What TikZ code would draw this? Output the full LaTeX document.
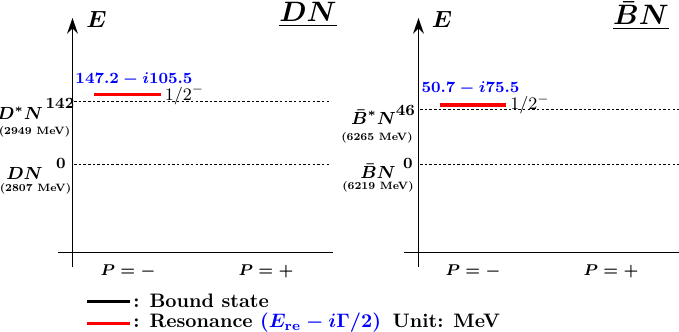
\documentclass[tikz,border=0pt]{standalone}
\usepackage{amsmath,amssymb}
\usetikzlibrary{arrows.meta}

\newcommand{\massnote}[1]{\scalebox{0.78}{\fontsize{7}{8}\selectfont\bfseries #1}}

\begin{document}
\begin{tikzpicture}[x=0.513pt, y=-0.513pt,
    axis/.style={line width=0.8pt, -{Stealth[length=8pt, width=5.5pt]}},
    haxis/.style={line width=0.8pt},
    level/.style={line width=0.6pt, dash pattern=on 1.3pt off 1.1pt},
    reson/.style={red, line width=1.6pt},
    bound/.style={black, line width=1.6pt},
    lbl/.style={inner sep=0pt, font=\bfseries\boldmath},
    axlbl/.style={inner sep=0pt, font=\large\bfseries\boldmath},
    ttl/.style={inner sep=0pt, font=\Large\bfseries\boldmath},
    thr/.style={inner sep=0pt, font=\footnotesize\bfseries\boldmath},
    chan/.style={inner sep=0pt, font=\small\bfseries\boldmath},
    mass/.style={inner sep=0pt},
    pole/.style={inner sep=0pt, text=blue, font=\footnotesize\bfseries\boldmath},
    jp/.style={inner sep=0pt, anchor=west, font=\small},
    par/.style={inner sep=0pt, font=\footnotesize\bfseries\boldmath}
]
\useasboundingbox (0,0) rectangle (679,332);

% DN panel
\coordinate (Lbot) at (72.5,267);
\coordinate (Ltop) at (72.5,18);
\coordinate (Lxl) at (58,252.5);
\coordinate (Lxr) at (333,252.5);
\draw[axis] (Lbot) -- (Ltop);
\draw[haxis] (Lxl) -- (Lxr);
\node[axlbl] (LE) at (96.5,19.5) {$E$};
\node[ttl] (Ltitle) at (308,14.5) {\underline{$DN$}};

\coordinate (Lsa) at (74,101.7);
\coordinate (Lsb) at (330,101.7);
\coordinate (Lza) at (74,164.3);
\coordinate (Lzb) at (330,164.3);
\draw[level] (Lsa) -- (Lsb);
\draw[level] (Lza) -- (Lzb);
\node[thr] (Lsval) at (60,103.5) {142};
\node[chan] (Lsch) at (20,113.5) {$D^*N$};
\node[mass] (Lsm) at (34.5,132) {\massnote{(2949 MeV)}};
\node[thr] (Lzval) at (61,163.5) {0};
\node[chan] (Lzch) at (24.5,173) {$DN$};
\node[mass] (Lzm) at (35.5,189) {\massnote{(2807 MeV)}};

\coordinate (Lra) at (94,94.3);
\coordinate (Lrb) at (161,94.3);
\draw[reson] (Lra) -- (Lrb);
\node[pole] (Lpole) at (134,79) {$147.2-i105.5$};
\node[jp] (Ljp) at (164.5,95) {$1/2^-$};

\node[par] (Lpm) at (128,271.5) {$P=-$};
\node[par] (Lpp) at (266,271.5) {$P=+$};

% BbarN panel
\coordinate (Rbot) at (418.5,267);
\coordinate (Rtop) at (418.5,18);
\coordinate (Rxl) at (404,252.5);
\coordinate (Rxr) at (679,252.5);
\draw[axis] (Rbot) -- (Rtop);
\draw[haxis] (Rxl) -- (Rxr);
\node[axlbl] (RE) at (442,19.5) {$E$};
\node[ttl] (Rtitle) at (641,16) {\underline{$\bar{B}N$}};

\coordinate (Rsa) at (420,109.3);
\coordinate (Rsb) at (679,109.3);
\coordinate (Rza) at (420,164.3);
\coordinate (Rzb) at (679,164.3);
\draw[level] (Rsa) -- (Rsb);
\draw[level] (Rza) -- (Rzb);
\node[thr] (Rsval) at (405.5,110.5) {46};
\node[chan] (Rsch) at (373.5,117) {$\bar{B}^*N$};
\node[mass] (Rsm) at (377,137.5) {\massnote{(6265 MeV)}};
\node[thr] (Rzval) at (408,163) {0};
\node[chan] (Rzch) at (378,171) {$\bar{B}N$};
\node[mass] (Rzm) at (378,186.5) {\massnote{(6219 MeV)}};

\coordinate (Rra) at (440,105);
\coordinate (Rrb) at (506,105);
\draw[reson] (Rra) -- (Rrb);
\node[pole] (Rpole) at (470.5,88.5) {$50.7-i75.5$};
\node[jp] (Rjp) at (510,104.5) {$1/2^-$};

\node[par] (Rpm) at (473,271.5) {$P=-$};
\node[par] (Rpp) at (611,271.5) {$P=+$};

% legend
\coordinate (Kba) at (87,301.5);
\coordinate (Kbb) at (130,301.5);
\coordinate (Kra) at (87,323.3);
\coordinate (Krb) at (130,323.3);
\draw[bound] (Kba) -- (Kbb);
\draw[reson] (Kra) -- (Krb);
\node[lbl, anchor=west] (Kbt) at (133,300.5) {: Bound state};
\node[lbl, anchor=west] (Krt) at (133,322.5) {: Resonance
  \textcolor{blue}{$(E_{\mathbf{re}}-i\Gamma/2)$}\hspace{0.6em}Unit: MeV};
\end{tikzpicture}
\end{document}
